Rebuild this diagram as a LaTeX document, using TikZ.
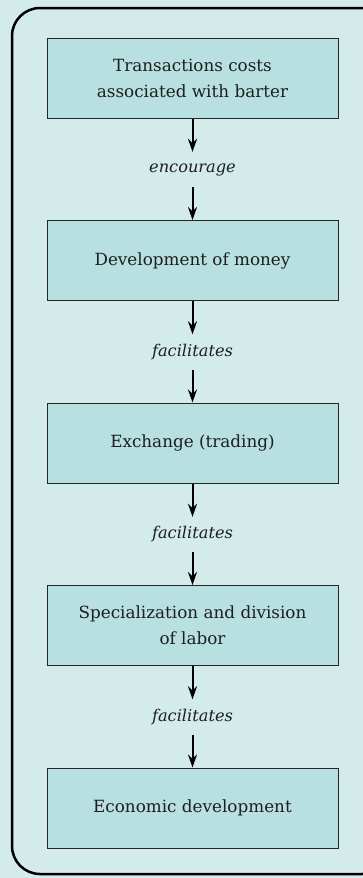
\documentclass[tikz,border=0pt]{standalone}
\usepackage{fontspec}
\setmainfont{DejaVu Serif}
\usetikzlibrary{arrows.meta}
\definecolor{bgc}{HTML}{D3EBEB}
\definecolor{boxc}{HTML}{B8E0E0}
\definecolor{txt}{HTML}{1E1E1E}
\tikzset{
  stepbox/.style={draw=black!85, line width=1pt, fill=boxc, minimum width=291pt, minimum height=80pt, inner sep=0pt, align=center, text=txt, font=\fontsize{16.8}{26}\selectfont},
  lbl/.style={minimum height=35pt, inner sep=0pt, text=txt, font=\fontsize{16.2}{20}\selectfont\itshape},
  arr/.style={line width=2pt, -{Stealth[length=13pt,width=9pt]}}
}
\begin{document}
\begin{tikzpicture}[x=1pt,y=-1pt]
\useasboundingbox (0,0) rectangle (363,878);
\fill[bgc] (0,0) rectangle (363,878);
\begin{scope}
\clip (0,0) rectangle (363,878);
\draw[line width=2.5pt, rounded corners=28pt] (12,8) rectangle (390,874);
\end{scope}
\node[stepbox] (b1) at (192.5,78) {Transactions costs\\associated with barter};
\node[stepbox] (b2) at (192.5,260.5) {Development of money};
\node[stepbox] (b3) at (192.5,443) {Exchange (trading)};
\node[stepbox] (b4) at (192.5,625.5) {Specialization and division\\of labor};
\node[stepbox] (b5) at (192.5,808) {Economic development};
\node[lbl] (l1) at (192.5,169.5) {encourage};
\node[lbl] (l2) at (192.5,352) {facilitates};
\node[lbl] (l3) at (192.5,534.5) {facilitates};
\node[lbl] (l4) at (192.5,717) {facilitates};
\draw[arr] (b1.south) -- (l1.north);
\draw[arr] (l1.south) -- (b2.north);
\draw[arr] (b2.south) -- (l2.north);
\draw[arr] (l2.south) -- (b3.north);
\draw[arr] (b3.south) -- (l3.north);
\draw[arr] (l3.south) -- (b4.north);
\draw[arr] (b4.south) -- (l4.north);
\draw[arr] (l4.south) -- (b5.north);
\end{tikzpicture}
\end{document}
